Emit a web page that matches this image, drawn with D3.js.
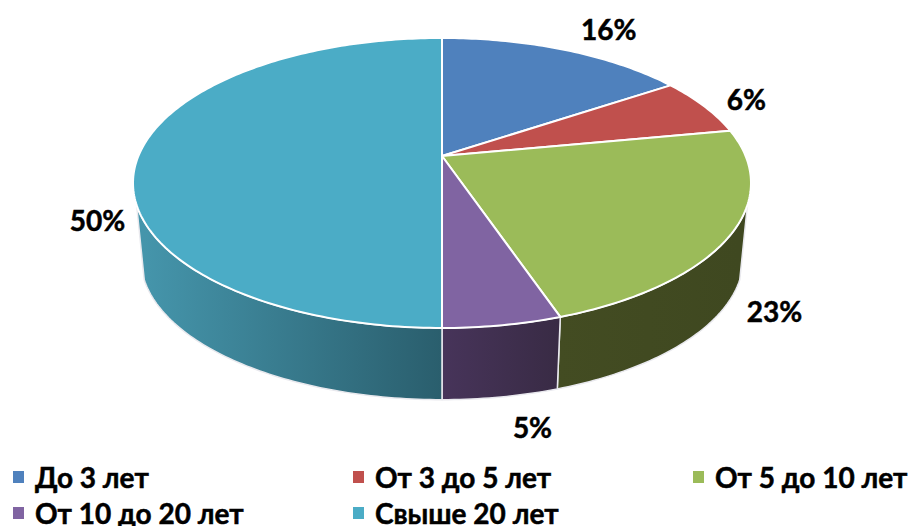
<!DOCTYPE html>
<html lang="ru">
<head>
<meta charset="UTF-8">
<title>Стаж</title>
<script src="https://d3js.org/d3.v7.min.js"></script>
<style>
  html, body { margin: 0; padding: 0; background: #fff; }
  svg { display: block; }
  text { font-family: Lato, "Noto Sans", sans-serif; font-weight: 700; fill: #000; stroke: #000; stroke-width: 0.5px; }
</style>
</head>
<body>
<script>
// data
const categories = ["До 3 лет", "От 3 до 5 лет", "От 5 до 10 лет", "От 10 до 20 лет", "Свыше 20 лет"];
const values = [15.6, 6.4, 22.8, 5.2, 50];
const labels = ["16%", "6%", "23%", "5%", "50%"];

// styles
const topColors = ["#4f81bd", "#c0504d", "#9bbb59", "#8064a2", "#4bacc6"];
const wallFrom = ["#3b5f8c", "#8f3b39", "#434c22", "#47345a", "#4595ab"];
const wallTo = ["#2b4668", "#6a2c2a", "#3f4820", "#392b45", "#2a5e6d"];

// label centre = rim point of the slice + this offset
const labelOffsets = [[44, -21], [42, -7], [43, 77], [30, 102], [-41, 64]];

const width = 911, height = 526;
const cx = 442;
const persp = 0.186;            // tilt of the pie plane
const topFace = { y: 156, a: 303.6, b: 140 };
const bottomFace = { y: 232, a: 296, b: 136.5 };
const wallStart = 109.2 * Math.PI / 180, wallEnd = 250.8 * Math.PI / 180;

// angle is clockwise from 12 o'clock, the slices converge on the apex
function project(face, t, r = 1) {
  const u = r * Math.sin(t), v = -r * Math.cos(t);
  const d = 1 - persp * v;
  return [cx + face.a * u / d, face.y + face.b * v / d];
}
function arcPoints(face, t0, t1) {
  const n = Math.max(2, Math.ceil(Math.abs(t1 - t0) * 60));
  return d3.range(n + 1).map(i => project(face, t0 + (t1 - t0) * i / n));
}

const line = d3.line();
const arcs = d3.pie().sort(null)(values);

const svg = d3.select("body").append("svg")
  .attr("width", width).attr("height", height);

// wall gradients run left to right across each slice
const defs = svg.append("defs");
categories.forEach((c, i) => {
  const a = arcs[i];
  const t0 = Math.max(a.startAngle, wallStart), t1 = Math.min(a.endAngle, wallEnd);
  if (t1 <= t0) return;
  const x0 = project(bottomFace, t0)[0], x1 = project(bottomFace, t1)[0];
  const g = defs.append("linearGradient").attr("id", "wall" + i)
    .attr("gradientUnits", "userSpaceOnUse")
    .attr("x1", Math.min(x0, x1)).attr("x2", Math.max(x0, x1))
    .attr("y1", 0).attr("y2", 0);
  g.append("stop").attr("offset", 0).attr("stop-color", wallFrom[i]);
  g.append("stop").attr("offset", 1).attr("stop-color", wallTo[i]);
});

// walls
svg.append("g").selectAll("path")
  .data(arcs.map((a, i) => ({ a, i })).filter(d =>
    Math.min(d.a.endAngle, wallEnd) > Math.max(d.a.startAngle, wallStart)))
  .enter().append("path")
  .attr("d", d => {
    const t0 = Math.max(d.a.startAngle, wallStart), t1 = Math.min(d.a.endAngle, wallEnd);
    return line(arcPoints(topFace, t0, t1).concat(arcPoints(bottomFace, t1, t0))) + "Z";
  })
  .attr("fill", d => `url(#wall${d.i})`)
  .attr("stroke", "#e9e9ee")
  .attr("stroke-width", 1.5)
  .attr("stroke-linejoin", "round");

// top face
svg.append("g").selectAll("path")
  .data(arcs)
  .enter().append("path")
  .attr("d", d => line([project(topFace, 0, 0)].concat(arcPoints(topFace, d.startAngle, d.endAngle))) + "Z")
  .attr("fill", (d, i) => topColors[i])
  .attr("stroke", "#fff")
  .attr("stroke-width", 2)
  .attr("stroke-linejoin", "round");

// data labels
svg.append("g").selectAll("text")
  .data(arcs)
  .enter().append("text")
  .attr("x", (d, i) => project(topFace, (d.startAngle + d.endAngle) / 2)[0] + labelOffsets[i][0])
  .attr("y", (d, i) => project(topFace, (d.startAngle + d.endAngle) / 2)[1] + labelOffsets[i][1])
  .attr("text-anchor", "middle")
  .attr("dominant-baseline", "central")
  .attr("font-size", 28)
  .text((d, i) => labels[i]);

// legend, three columns
const legendX = d3.scalePoint().domain([0, 1, 2]).range([13, 693]);
const legendY = d3.scalePoint().domain([0, 1]).range([477, 513]);
const legend = svg.append("g").selectAll("g")
  .data(categories)
  .enter().append("g")
  .attr("transform", (d, i) => `translate(${legendX(i % 3)},${legendY(Math.floor(i / 3))})`);
legend.append("rect")
  .attr("y", -6).attr("width", 11).attr("height", 12)
  .attr("fill", (d, i) => topColors[i]);
legend.append("text")
  .attr("x", 22)
  .attr("dominant-baseline", "central")
  .attr("font-size", 28)
  .text(d => d);
</script>
</body>
</html>
